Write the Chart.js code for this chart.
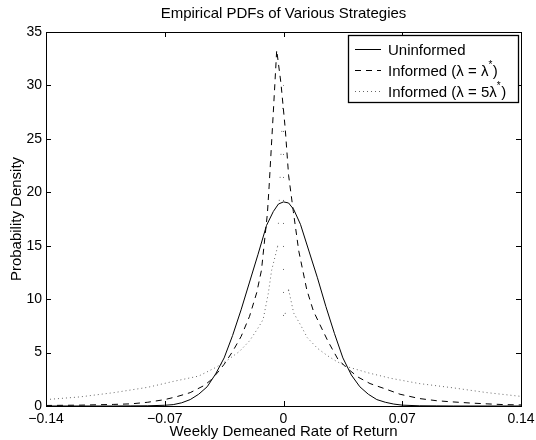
<!DOCTYPE html>
<html>
<head>
<meta charset="utf-8">
<script src="https://cdn.jsdelivr.net/npm/chart.js@4/dist/chart.umd.min.js"></script>
<style>
html,body{margin:0;padding:0;background:#fff;}
#wrap{width:536px;height:440px;}
</style>
</head>
<body>
<div id="wrap"><canvas id="c" width="536" height="440"></canvas></div>
<script>
// ---- data ----
const titleText = "Empirical PDFs of Various Strategies";
const xTitle = "Weekly Demeaned Rate of Return";
const yTitle = "Probability Density";
const xTicks = [-0.14, -0.07, 0, 0.07, 0.14];
const yTicks = [0, 5, 10, 15, 20, 25, 30, 35];
const seriesNames = ["Uninformed", "Informed (\u03bb = \u03bb*)", "Informed (\u03bb = 5\u03bb*)"];

const xUninformed = [-0.14,-0.12,-0.10,-0.09,-0.08,-0.07,-0.065,-0.06,-0.055,-0.05,-0.045,-0.04,-0.035,-0.03,-0.025,-0.02,-0.015,-0.01,-0.006,-0.003,0.0,0.003,0.006,0.01,0.015,0.02,0.025,0.03,0.035,0.04,0.045,0.05,0.055,0.06,0.065,0.07,0.08,0.09,0.10,0.12,0.14];
const yUninformed = [0,0,0,0.01,0.02,0.07,0.13,0.3,0.6,1.1,1.8,3.0,4.5,6.6,9.0,11.6,14.2,16.9,18.2,18.9,19.1,19.0,18.4,17.0,14.5,12.0,9.3,6.8,4.5,2.9,1.8,1.1,0.6,0.35,0.18,0.08,0.02,0.01,0,0,0];

const xInformed = [-0.14,-0.12,-0.10,-0.09,-0.08,-0.07,-0.063,-0.055,-0.047,-0.043,-0.039,-0.035,-0.03,-0.025,-0.02,-0.0158,-0.013,-0.0095,-0.0085,-0.006,-0.004,-0.0015,0.001,0.003,0.0058,0.009,0.0137,0.0176,0.0215,0.0264,0.032,0.037,0.044,0.051,0.06,0.0687,0.08,0.09,0.098,0.11,0.12,0.13,0.14];
const yInformed = [0.05,0.08,0.15,0.2,0.35,0.6,0.87,1.25,1.9,2.4,3.1,3.9,5.1,6.5,8.4,10.6,12.7,18.0,20.5,27.5,33.3,30.2,26.0,21.6,18.2,14.5,10.9,8.9,7.6,6.0,4.4,3.6,2.7,2.1,1.6,1.1,0.7,0.5,0.4,0.28,0.2,0.13,0.1];

const xInformed5 = [-0.14,-0.12,-0.10,-0.08,-0.065,-0.05,-0.04,-0.033,-0.026,-0.02,-0.015,-0.012,-0.009,-0.007,-0.0035,0,0,0.003,0.006,0.01,0.014,0.02,0.026,0.031,0.037,0.05,0.063,0.08,0.10,0.12,0.14];
const yInformed5 = [0.6,0.85,1.25,1.75,2.3,2.8,3.6,4.3,5.1,6.1,7.3,8.1,10.5,12.7,14.9,30,7.5,10.9,8.7,7.6,6.4,5.4,4.7,4.2,3.7,3.1,2.6,2.1,1.7,1.25,0.9];

function pts(xs, ys){ return xs.map((x,i)=>({x:x, y:ys[i]})); }

const FONT = "'Liberation Sans', Arial, Helvetica, sans-serif";
const dashes = [[], [6,5], [1,3]];
const colors = ['#000', '#000', '#666'];

const frame = {
  id: 'frame',
  afterDatasetsDraw(chart){
    const {ctx, chartArea:a, scales} = chart;
    ctx.save();
    ctx.strokeStyle = '#000';
    ctx.lineWidth = 1;
    ctx.setLineDash([]);
    ctx.strokeRect(Math.round(a.left)+0.5, Math.round(a.top)+0.5, Math.round(a.right-a.left), Math.round(a.bottom-a.top));
    const tl = 5;
    ctx.beginPath();
    xTicks.forEach(v=>{
      const px = Math.round(scales.x.getPixelForValue(v))+0.5;
      ctx.moveTo(px, a.bottom); ctx.lineTo(px, a.bottom-tl);
      ctx.moveTo(px, a.top); ctx.lineTo(px, a.top+tl);
    });
    yTicks.forEach(v=>{
      const py = Math.round(scales.y.getPixelForValue(v))+0.5;
      ctx.moveTo(a.left, py); ctx.lineTo(a.left+tl, py);
      ctx.moveTo(a.right, py); ctx.lineTo(a.right-tl, py);
    });
    ctx.stroke();

    // legend box
    const lx = 348, ly = 35, lw = 170, lh = 67;
    ctx.fillStyle = '#fff';
    ctx.fillRect(lx, ly, lw, lh);
    ctx.lineWidth = 1.3;
    ctx.strokeRect(lx+0.5, ly+0.5, lw, lh);
    ctx.lineWidth = 1;
    const rows = [49.5, 70.5, 91.5];
    ctx.font = "15px " + FONT;
    ctx.textBaseline = 'middle';
    rows.forEach((ry,i)=>{
      ctx.strokeStyle = colors[i];
      ctx.setLineDash(dashes[i]);
      ctx.beginPath(); ctx.moveTo(355, ry); ctx.lineTo(381, ry); ctx.stroke();
      ctx.setLineDash([]);
      ctx.fillStyle = '#000';
      let tx = 388;
      const name = seriesNames[i];
      const parts = name.split('*');
      if (parts.length === 1){ ctx.fillText(name, tx, ry+1); }
      else {
        ctx.fillText(parts[0], tx, ry+1);
        tx += ctx.measureText(parts[0]).width;
        ctx.font = "10px " + FONT;
        ctx.fillText('*', tx, ry-5);
        tx += ctx.measureText('*').width + 0.5;
        ctx.font = "15px " + FONT;
        ctx.fillText(parts[1], tx, ry+1);
      }
    });
    ctx.restore();
  }
};

const spikeDash = c => {
  const x0 = c.p0.parsed.x, x1 = c.p1.parsed.x;
  return (Math.abs(x0) < 0.0036 && Math.abs(x1) < 0.0036 && (x0 === 0 || x1 === 0)) ? [1, 22] : undefined;
};

const data = {
  datasets: [
    {label: seriesNames[0], data: pts(xUninformed, yUninformed), borderDash: dashes[0], borderColor: colors[0]},
    {label: seriesNames[1], data: pts(xInformed, yInformed), borderDash: dashes[1], borderColor: colors[1]},
    {label: seriesNames[2], data: pts(xInformed5, yInformed5), borderDash: dashes[2], borderColor: colors[2], segment: {borderDash: spikeDash}}
  ].map(d=>Object.assign(d, {borderWidth:1, pointRadius:0, tension:0, fill:false}))
};

new Chart(document.getElementById('c'), {
  type: 'line',
  data: data,
  options: {
    responsive: false,
    animation: false,
    events: [],
    layout: {padding: {top: 0, right: 15, left: 0, bottom: 0}},
    plugins: {
      legend: {display: false},
      tooltip: {enabled: false},
      title: {
        display: true, text: titleText, fullSize: false, color: '#000',
        font: {family: FONT, size: 15, weight: 'normal'},
        padding: {top: 5, bottom: 9}
      }
    },
    scales: {
      x: {
        type: 'linear', min: -0.14, max: 0.14,
        afterBuildTicks(s){ s.ticks = xTicks.map(v=>({value:v})); },
        afterFit(s){ s.height = 34; s.paddingLeft = 0; s.paddingRight = 0; },
        grid: {display: false, drawTicks: false},
        border: {display: false},
        ticks: {
          color: '#000', padding: 5, maxRotation: 0, autoSkip: false,
          font: {family: FONT, size: 14},
          callback: v => v < 0 ? '\u2212' + String(Math.abs(v)) : String(v)
        },
        title: {display: true, text: xTitle, color: '#000', font: {family: FONT, size: 15}, padding: {top: 0, bottom: -1}}
      },
      y: {
        type: 'linear', min: 0, max: 35,
        afterBuildTicks(s){ s.ticks = yTicks.map(v=>({value:v})); },
        afterFit(s){ s.width = 46; },
        grid: {display: false, drawTicks: false},
        border: {display: false},
        ticks: {color: '#000', padding: 4, font: {family: FONT, size: 14}},
        title: {display: true, text: yTitle, color: '#000', font: {family: FONT, size: 15}, padding: {top: 8, bottom: 0}}
      }
    }
  },
  plugins: [frame]
});
</script>
</body>
</html>
